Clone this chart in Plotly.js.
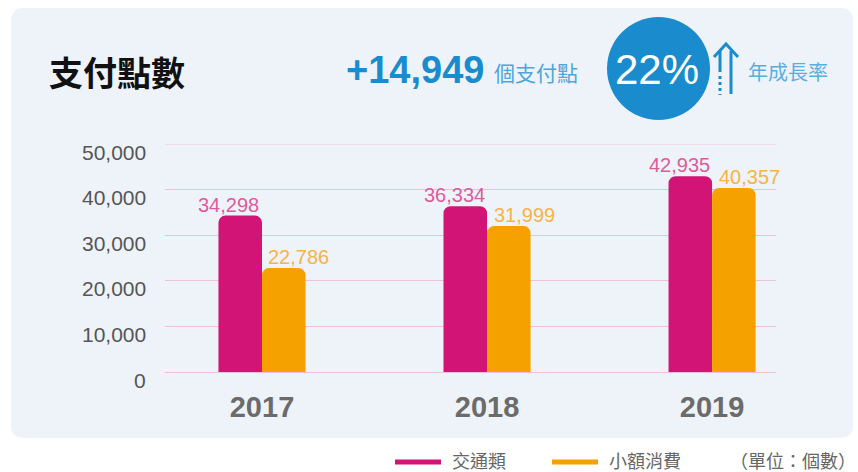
<!DOCTYPE html>
<html>
<head>
<meta charset="utf-8">
<script src="https://cdn.plot.ly/plotly-3.0.1.min.js"></script>
<style>
html,body{margin:0;padding:0;background:#fff;}
#chart{width:858px;height:472px;}
</style>
</head>
<body>
<div id="chart"></div>
<script>
// ---- data ----
const years = ['2017', '2018', '2019'];
const transport = [34298, 36334, 42935];   // 交通類
const smallPay = [22786, 31999, 40357];    // 小額消費
const seriesNames = ['交通類', '小額消費'];
const yTicks = [0, 10000, 20000, 30000, 40000, 50000];
const yTickText = ['0', '10,000', '20,000', '30,000', '40,000', '50,000'];
const headline = '+14,949';
const growth = '22%';

// ---- layout geometry (pixels) ----
const W = 858, H = 472;
const L = 165, R = 776, T = 144, B = 372;
const px = X => (X - L) / (R - L);
const py = Y => (B - Y) / (B - T);

const FONT = 'Liberation Sans, Arial, Helvetica, Noto Sans CJK TC, sans-serif';
const CJK = 'Noto Sans CJK TC, Liberation Sans, sans-serif';
const MAG = '#D31477', ORA = '#F5A200';
const MAG_T = '#E05A9C', ORA_T = '#F7B445';
const BLUE = '#1A8CCE';
const GRID = '#F0C1D4';

function roundRect(x0, y0, x1, y1, r) {
  const p = (X, Y) => px(X).toFixed(5) + ',' + py(Y).toFixed(5);
  return 'M' + p(x0 + r, y0) + ' L' + p(x1 - r, y0) + ' Q' + p(x1, y0) + ' ' + p(x1, y0 + r) +
    ' L' + p(x1, y1 - r) + ' Q' + p(x1, y1) + ' ' + p(x1 - r, y1) +
    ' L' + p(x0 + r, y1) + ' Q' + p(x0, y1) + ' ' + p(x0, y1 - r) +
    ' L' + p(x0, y0 + r) + ' Q' + p(x0, y0) + ' ' + p(x0 + r, y0) + ' Z';
}
function linePath(pts) {
  return pts.map((q, i) => (i ? 'L' : 'M') + px(q[0]).toFixed(5) + ',' + py(q[1]).toFixed(5)).join(' ');
}

const fmt = v => v.toLocaleString('en-US');

const traces = [
  {
    type: 'bar', name: seriesNames[0], x: years, y: transport,
    marker: {color: MAG, cornerradius: 7}, hoverinfo: 'skip'
  },
  {
    type: 'bar', name: seriesNames[1], x: years, y: smallPay,
    marker: {color: ORA, cornerradius: 7}, hoverinfo: 'skip'
  }
];

const annotations = [];
years.forEach((yr, i) => {
  // category index used as x (numeric-looking category names)
  annotations.push({x: i, y: transport[i], xref: 'x', yref: 'y', text: fmt(transport[i]),
    showarrow: false, xshift: -33, yanchor: 'bottom', yshift: -2,
    font: {family: FONT, size: 20, color: MAG_T}});
  annotations.push({x: i, y: smallPay[i], xref: 'x', yref: 'y', text: fmt(smallPay[i]),
    showarrow: false, xshift: 37, yanchor: 'bottom', yshift: -2,
    font: {family: FONT, size: 20, color: ORA_T}});
});

// y tick labels (sit slightly below their gridlines, as in the reference)
yTicks.forEach((v, i) => {
  annotations.push({xref: 'paper', yref: 'y', x: px(147), y: v, xanchor: 'right', yanchor: 'middle',
    yshift: -8, text: yTickText[i], showarrow: false, borderpad: 0,
    font: {family: FONT, size: 21, color: '#555'}});
});

// header texts
annotations.push({xref: 'paper', yref: 'paper', x: px(47), y: py(72), xanchor: 'left', yanchor: 'middle',
  text: '<b>支付點數</b>', showarrow: false, font: {family: CJK, size: 34, color: '#111'}});
annotations.push({xref: 'paper', yref: 'paper', x: px(344), y: py(70), xanchor: 'left', yanchor: 'middle',
  text: '<b>' + headline + '</b>', showarrow: false, font: {family: FONT, size: 38, color: BLUE}});
annotations.push({xref: 'paper', yref: 'paper', x: px(492), y: py(72), xanchor: 'left', yanchor: 'middle',
  text: '個支付點', showarrow: false, font: {family: CJK, size: 21, color: '#4FA5DA'}});
annotations.push({xref: 'paper', yref: 'paper', x: px(657), y: py(69), xanchor: 'center', yanchor: 'middle',
  text: growth, showarrow: false, font: {family: FONT, size: 42, color: '#fff'}});
annotations.push({xref: 'paper', yref: 'paper', x: px(746), y: py(72), xanchor: 'left', yanchor: 'middle',
  text: '年成長率', showarrow: false, font: {family: CJK, size: 20, color: '#5AAEDF'}});

// legend texts
annotations.push({xref: 'paper', yref: 'paper', x: px(451), y: py(460), xanchor: 'left', yanchor: 'middle',
  text: seriesNames[0], showarrow: false, borderpad: 0, font: {family: CJK, size: 18, color: '#666'}});
annotations.push({xref: 'paper', yref: 'paper', x: px(608), y: py(460), xanchor: 'left', yanchor: 'middle',
  text: seriesNames[1], showarrow: false, borderpad: 0, font: {family: CJK, size: 18, color: '#666'}});
annotations.push({xref: 'paper', yref: 'paper', x: px(857), y: py(460), xanchor: 'right', yanchor: 'middle',
  text: '（單位：個數）', showarrow: false, borderpad: 0, font: {family: CJK, size: 18, color: '#666'}});

const shapes = [
  {type: 'path', xref: 'paper', yref: 'paper', layer: 'below', path: roundRect(11, 8, 853, 438, 13),
    fillcolor: '#EEF3FA', line: {width: 0}},
  {type: 'circle', xref: 'paper', yref: 'paper', layer: 'above',
    x0: px(607), x1: px(710), y0: py(120), y1: py(17), fillcolor: BLUE, line: {width: 0}},
  // arrow
  {type: 'path', xref: 'paper', yref: 'paper', path: linePath([[714, 57], [726, 44], [738, 57]]),
    line: {color: BLUE, width: 3}},
  {type: 'path', xref: 'paper', yref: 'paper', path: linePath([[731, 51], [731, 94]]),
    line: {color: BLUE, width: 3}},
  {type: 'path', xref: 'paper', yref: 'paper', path: linePath([[720, 51], [720, 72]]),
    line: {color: BLUE, width: 3}},
  {type: 'path', xref: 'paper', yref: 'paper', path: linePath([[720, 76], [720, 95]]),
    line: {color: BLUE, width: 3, dash: 'dot'}},
  // top gridline (50,000)
  {type: 'line', xref: 'paper', yref: 'y', x0: 0, x1: 1, y0: yTicks[yTicks.length - 1], y1: yTicks[yTicks.length - 1],
    layer: 'below', line: {color: GRID, width: 1}},
  // legend swatches
  {type: 'line', xref: 'paper', yref: 'paper', x0: px(395), x1: px(441), y0: py(462), y1: py(462),
    line: {color: MAG, width: 5}},
  {type: 'line', xref: 'paper', yref: 'paper', x0: px(552), x1: px(598), y0: py(462), y1: py(462),
    line: {color: ORA, width: 5}}
];

const layout = {
  width: W, height: H,
  margin: {l: L, r: W - R, t: T, b: H - B, pad: 0},
  paper_bgcolor: '#ffffff',
  plot_bgcolor: 'rgba(0,0,0,0)',
  showlegend: false,
  barmode: 'group',
  bargap: 0.613,
  bargroupgap: 0,
  xaxis: {
    type: 'category', range: [-0.431, 2.284], showgrid: false, zeroline: false, showline: false,
    ticks: '', tickfont: {family: FONT, size: 29, color: '#6B6B6B', weight: 'bold'},
    ticklabelstandoff: 15, fixedrange: true
  },
  yaxis: {
    range: [0, 50000], tickvals: yTicks, showticklabels: false,
    showgrid: true, gridcolor: GRID, gridwidth: 1,
    zeroline: true, zerolinecolor: GRID, zerolinewidth: 1, showline: false,
    ticks: '', fixedrange: true
  },
  annotations: annotations,
  shapes: shapes
};

Plotly.newPlot('chart', traces, layout, {displayModeBar: false, staticPlot: true});
</script>
</body>
</html>
